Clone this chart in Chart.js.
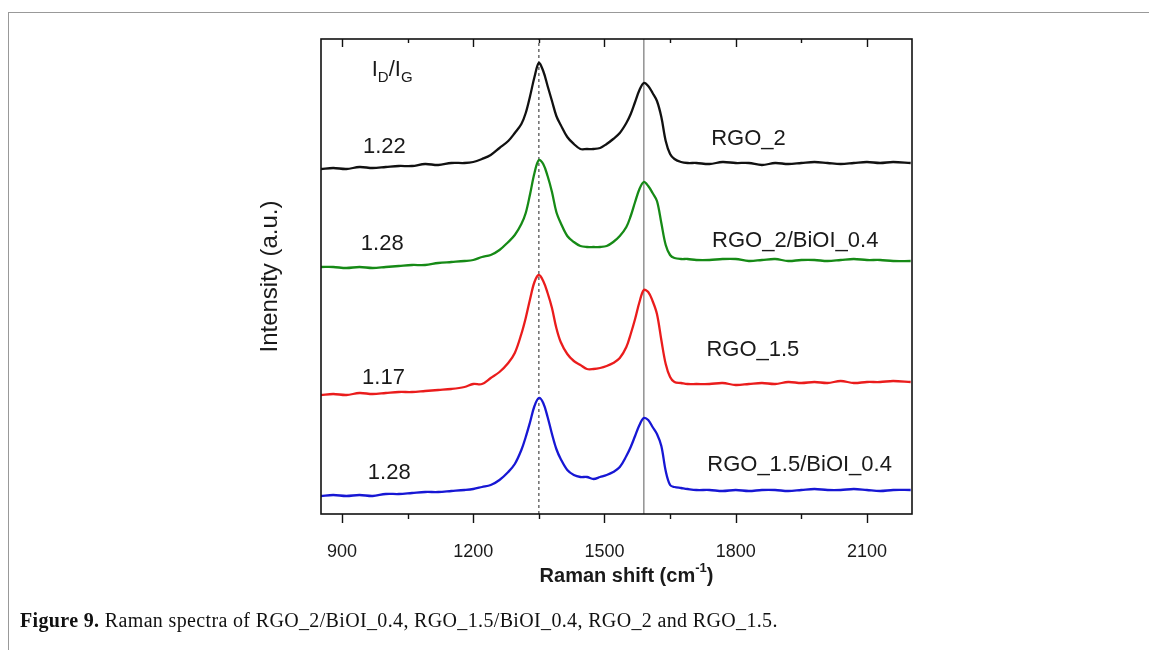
<!DOCTYPE html>
<html>
<head>
<meta charset="utf-8">
<script src="https://cdn.jsdelivr.net/npm/chart.js"></script>
<style>
  html, body { margin: 0; padding: 0; background: #fff; }
  #wrap { position: relative; width: 1153px; height: 650px; overflow: hidden; }
  #frame { position: absolute; left: 8px; top: 12px; width: 1140px; height: 700px;
           border-top: 1.5px solid #999; border-left: 1.5px solid #999; }
  #chart { position: absolute; left: 0; top: 0; }
  #caption { position: absolute; left: 20px; top: 609px; font-family: 'Liberation Serif', 'DejaVu Serif', serif;
             font-size: 20px; color: #111; white-space: nowrap; letter-spacing: 0.35px; }
</style>
</head>
<body>
<div id="wrap">
  <div id="frame"></div>
  <canvas id="chart" width="1153" height="650"></canvas>
  <div id="caption"><b>Figure 9.</b> Raman spectra of RGO_2/BiOI_0.4, RGO_1.5/BiOI_0.4, RGO_2 and RGO_1.5.</div>
</div>
<script>
// Raman shift (cm-1) sample points, shared by all four spectra
const shift = [852, 880, 910, 940, 970, 1000, 1030, 1060, 1090, 1120,
  1150, 1180, 1200, 1220, 1240, 1260, 1280, 1295, 1310, 1320,
  1330, 1340, 1350, 1360, 1370, 1380, 1390, 1400, 1415, 1430,
  1445, 1460, 1475, 1490, 1505, 1520, 1535, 1550, 1560, 1570,
  1580, 1590, 1600, 1610, 1620, 1630, 1640, 1650, 1660, 1675,
  1690, 1710, 1740, 1770, 1800, 1830, 1860, 1890, 1920, 1950,
  1980, 2010, 2040, 2070, 2100, 2130, 2160, 2200];

// stacked intensities (a.u.)
const rgo2 = [345, 346, 345, 347, 346, 347, 348, 348, 350, 349,
  351, 351, 352, 355, 359, 366, 373, 381, 390, 401,
  418, 437, 451, 443, 428, 413, 398, 389, 377, 370,
  365, 365, 365, 366, 370, 375, 381, 391, 400, 412,
  424, 431, 428, 421, 413, 397, 373, 360, 355, 352,
  351, 351, 350, 352, 351, 351, 349, 351, 350, 351,
  352, 351, 350, 351, 352, 351, 352, 351];
const rgo2BiOI = [247, 247, 246, 247, 246, 247, 248, 249, 249, 251,
  252, 253, 254, 257, 259, 264, 272, 279, 290, 301,
  320, 341, 354, 350, 338, 322, 302, 291, 278, 272,
  268, 267, 267, 267, 268, 272, 278, 287, 298, 312,
  325, 332, 328, 321, 313, 291, 269, 259, 256, 255,
  255, 254, 254, 255, 255, 253, 254, 255, 253, 254,
  254, 253, 254, 255, 254, 254, 253, 253];
const rgo15 = [119, 120, 119, 121, 120, 121, 122, 122, 123, 124,
  125, 127, 130, 130, 136, 142, 151, 161, 180, 196,
  215, 232, 239, 233, 221, 206, 186, 172, 160, 153,
  149, 145, 145, 146, 148, 151, 156, 167, 180, 195,
  212, 224, 222, 213, 200, 174, 150, 137, 132, 131,
  130, 130, 130, 131, 129, 130, 131, 130, 132, 131,
  132, 131, 133, 131, 132, 132, 133, 132];
const rgo15BiOI = [18, 19, 18, 19, 18, 20, 20, 21, 22, 22,
  23, 24, 25, 27, 29, 34, 42, 50, 64, 77,
  92, 108, 116, 111, 97, 80, 65, 55, 44, 39,
  37, 37, 35, 37, 39, 42, 47, 58, 67, 78,
  89, 96, 94, 87, 80, 68, 43, 29, 27, 26,
  25, 24, 24, 23, 24, 23, 24, 24, 23, 24,
  25, 24, 24, 25, 24, 23, 24, 24];

const sampleNames = ['RGO_2', 'RGO_2/BiOI_0.4', 'RGO_1.5', 'RGO_1.5/BiOI_0.4'];
const idIgRatios = ['1.22', '1.28', '1.17', '1.28'];
const xTicks = [900, 1200, 1500, 1800, 2100];
const xMinorTicks = [1050, 1350, 1650, 1950];
const dBand = 1350;
const gBand = 1590;

const series = [rgo2, rgo2BiOI, rgo15, rgo15BiOI];
const colors = ['#111111', '#168a16', '#ea1c1c', '#1717d4'];

// where the text annotations sit, in data units
const ratioPos = [[948, 367], [943, 270], [946, 136], [959, 41]];
const namePos = [[1744, 375], [1746, 273], [1733, 164], [1735, 49]];

const datasets = series.map((s, i) => ({
  label: sampleNames[i],
  data: shift.map((x, j) => ({ x: x, y: s[j] })),
  borderColor: colors[i],
  borderWidth: 2.3,
  pointRadius: 0,
  tension: 0.35,
  order: 0
}));
datasets.push({
  label: 'D band',
  data: [{ x: dBand, y: 0 }, { x: dBand, y: 475 }],
  borderColor: '#555',
  borderWidth: 1.3,
  borderDash: [3, 3],
  pointRadius: 0,
  order: 5
});
datasets.push({
  label: 'G band',
  data: [{ x: gBand, y: 0 }, { x: gBand, y: 475 }],
  borderColor: '#808080',
  borderWidth: 1.3,
  pointRadius: 0,
  order: 5
});

const decor = {
  id: 'decor',
  afterDatasetsDraw(chart) {
    const ctx = chart.ctx;
    const a = chart.chartArea;
    const xs = chart.scales.x;
    const ys = chart.scales.y;
    ctx.save();
    // frame
    ctx.strokeStyle = '#111';
    ctx.lineWidth = 1.6;
    ctx.strokeRect(a.left, a.top, a.right - a.left, a.bottom - a.top);
    // ticks: outward at bottom, inward at top
    ctx.lineWidth = 1.4;
    ctx.beginPath();
    xTicks.forEach(v => {
      const px = Math.round(xs.getPixelForValue(v)) + 0.5;
      ctx.moveTo(px, a.bottom); ctx.lineTo(px, a.bottom + 9);
      ctx.moveTo(px, a.top); ctx.lineTo(px, a.top + 8);
    });
    xMinorTicks.forEach(v => {
      const px = Math.round(xs.getPixelForValue(v)) + 0.5;
      ctx.moveTo(px, a.bottom); ctx.lineTo(px, a.bottom + 5);
      ctx.moveTo(px, a.top); ctx.lineTo(px, a.top + 4);
    });
    ctx.stroke();

    ctx.fillStyle = '#1a1a1a';
    ctx.textAlign = 'left';
    // I_D / I_G header
    let hx = xs.getPixelForValue(968);
    const hy = ys.getPixelForValue(438);
    const big = '22px "Liberation Sans", Arial, sans-serif';
    const small = '15px "Liberation Sans", Arial, sans-serif';
    ctx.textBaseline = 'alphabetic';
    [['I', big, 0], ['D', small, 6], ['/I', big, 0], ['G', small, 6]].forEach(p => {
      ctx.font = p[1];
      ctx.fillText(p[0], hx, hy + p[2]);
      hx += ctx.measureText(p[0]).width;
    });
    ctx.textBaseline = 'middle';
    ctx.font = big;
    idIgRatios.forEach((t, i) => {
      ctx.fillText(t, xs.getPixelForValue(ratioPos[i][0]), ys.getPixelForValue(ratioPos[i][1]));
    });
    sampleNames.forEach((t, i) => {
      ctx.fillText(t, xs.getPixelForValue(namePos[i][0]), ys.getPixelForValue(namePos[i][1]));
    });

    // x-axis title with superscript
    const main = 'bold 20px "Liberation Sans", Arial, sans-serif';
    const sup = 'bold 13px "Liberation Sans", Arial, sans-serif';
    const parts = [['Raman shift (cm', main, 0], ['-1', sup, -8], [')', main, 0]];
    let w = 0;
    parts.forEach(p => { ctx.font = p[1]; w += ctx.measureText(p[0]).width; });
    let tx = (a.left + a.right) / 2 + 10 - w / 2;
    const ty = 576;
    parts.forEach(p => {
      ctx.font = p[1];
      ctx.fillText(p[0], tx, ty + p[2]);
      tx += ctx.measureText(p[0]).width;
    });
    ctx.restore();
  }
};

new Chart(document.getElementById('chart'), {
  type: 'line',
  data: { datasets: datasets },
  options: {
    responsive: false,
    animation: false,
    devicePixelRatio: 1,
    layout: { padding: { top: 39, right: 241, left: 0, bottom: 0 } },
    plugins: { legend: { display: false }, tooltip: { enabled: false } },
    scales: {
      x: {
        type: 'linear',
        min: 852,
        max: 2203,
        afterBuildTicks: s => { s.ticks = xTicks.map(v => ({ value: v })); },
        afterFit: s => { s.height = 136; },
        grid: { display: false, drawTicks: false },
        border: { display: false },
        ticks: {
          padding: 27,
          color: '#1a1a1a',
          font: { family: '"Liberation Sans", Arial, sans-serif', size: 18 },
          maxRotation: 0,
          callback: v => String(v)
        }
      },
      y: {
        min: 0,
        max: 475,
        afterFit: s => { s.width = 321; },
        grid: { display: false, drawTicks: false },
        border: { display: false },
        ticks: { display: false },
        title: {
          display: true,
          text: 'Intensity (a.u.)',
          color: '#1a1a1a',
          font: { family: '"Liberation Sans", Arial, sans-serif', size: 24 },
          padding: { top: 256, bottom: 0 }
        }
      }
    }
  },
  plugins: [decor]
});
</script>
</body>
</html>
